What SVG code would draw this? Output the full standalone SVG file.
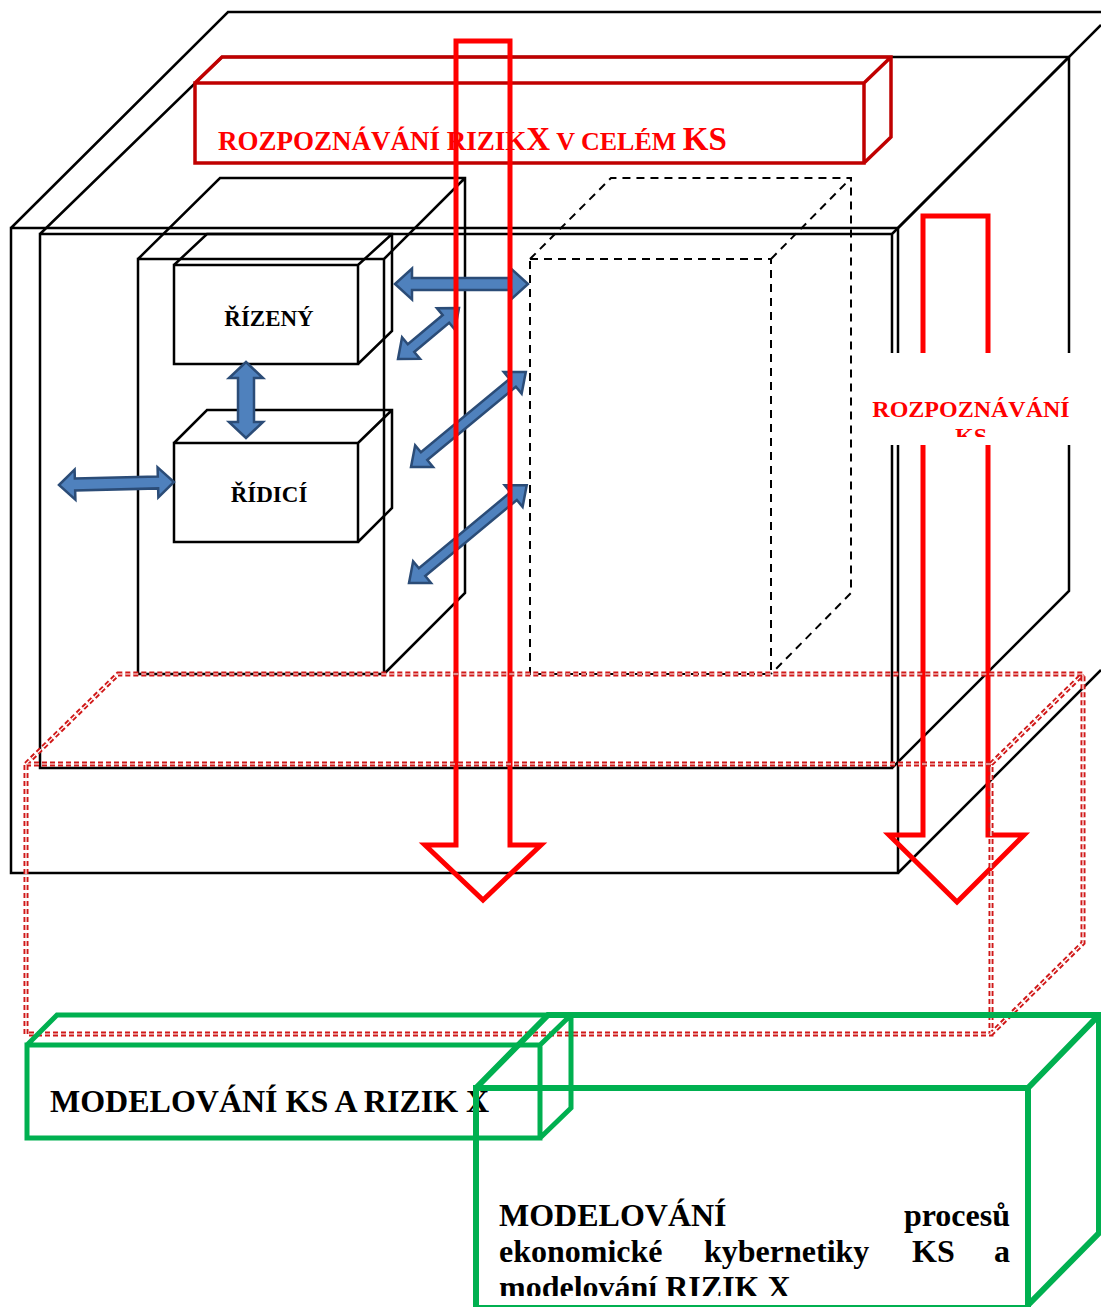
<svg xmlns="http://www.w3.org/2000/svg" width="1101" height="1307" viewBox="0 0 1101 1307">
<style>
.blk{fill:none;stroke:#000;stroke-width:2.5;stroke-linejoin:miter}
.dash{fill:none;stroke:#000;stroke-width:2;stroke-dasharray:8 6}
.rbox{fill:none;stroke:#C00000;stroke-width:3.5}
.rarrow{fill:none;stroke:#FF0000;stroke-width:5}
.dotr{fill:none;stroke:#D01818;stroke-width:5;stroke-dasharray:5 3}
.dotw{fill:none;stroke:#fff;stroke-width:1.2;stroke-dasharray:5 3}
.grn{fill:none;stroke:#00B050;stroke-width:5}
.grn2{fill:none;stroke:#00B050;stroke-width:6}
.barrow{fill:#4F81BD;stroke:#2B4C77;stroke-width:2.5;stroke-linejoin:miter}
.t{font-family:"Liberation Serif","Times New Roman",serif;font-weight:bold}
</style>
<defs>
<clipPath id="clipKS"><rect x="852" y="353" width="249" height="84"/></clipPath>
<clipPath id="clipBig"><rect x="480" y="1092" width="545" height="204"/></clipPath>
</defs>
<rect width="1101" height="1307" fill="#fff"/>

<g id="outer-box">
<path class="blk" d="M11,228 H898 V873 H11 Z M11,228 L228,12 H1101 M898,228 L1101,25 M898,873 L1101,670"/>
</g>
<g id="inner-box">
<path class="blk" d="M40,234 H892 V768 H40 Z M40,234 L222,57 H1069 V591 L892,768 M892,234 L1069,57"/>
</g>
<g id="system-box">
<path class="blk" d="M138,259 H384 V674 H138 Z M138,259 L220,178 H465 V593 L384,674 M384,259 L465,178"/>
</g>
<g id="rizeny">
<path class="blk" d="M174,265 H358 V364 H174 Z M174,265 L207,234 H392 V331 L358,364 M358,265 L392,234"/>
<text class="t" x="269" y="326" font-size="23" text-anchor="middle">ŘÍZENÝ</text>
</g>
<g id="ridici">
<path class="blk" d="M174,443 H358 V542 H174 Z M174,443 L207,410 H392 V508 L358,542 M358,443 L392,410"/>
<text class="t" x="269" y="502" font-size="23" text-anchor="middle">ŘÍDICÍ</text>
</g>
<g id="environment-box">
<path class="dash" d="M530,259 H771 V674 H530 Z M530,259 L611,178 H851 V593 L771,674 M771,259 L851,178"/>
</g>

<g id="connectors">
<path class="barrow" transform="translate(395,284)" d="M0,0 L17,-15.5 L17,-6 L116,-6 L116,-15.5 L133,0 L116,15.5 L116,6 L17,6 L17,15.5 Z"/>
<path class="barrow" transform="translate(398,359) rotate(-39.9)" d="M0,0 L17,-14 L17,-5 L62.5,-5 L62.5,-14 L79.5,0 L62.5,14 L62.5,5 L17,5 L17,14 Z"/>
<path class="barrow" transform="translate(246,362) rotate(90)" d="M0,0 L16,-17 L16,-8 L60,-8 L60,-17 L76,0 L60,17 L60,8 L16,8 L16,17 Z"/>
<path class="barrow" transform="translate(59,485) rotate(-1.5)" d="M0,0 L16,-15 L16,-6 L99,-6 L99,-15 L115,0 L99,15 L99,6 L16,6 L16,15 Z"/>
<path class="barrow" transform="translate(411,467) rotate(-39.6)" d="M0,0 L17,-14 L17,-5 L132,-5 L132,-14 L149,0 L132,14 L132,5 L17,5 L17,14 Z"/>
<path class="barrow" transform="translate(409,583) rotate(-39.7)" d="M0,0 L17,-14 L17,-5 L136,-5 L136,-14 L153,0 L136,14 L136,5 L17,5 L17,14 Z"/>
</g>

<g id="top-recognition">
<path class="rbox" d="M195,83 H864 V163 H195 Z M195,83 L222,57 H891 V137 L864,163 M864,83 L891,57"/>
<text class="t" x="218" y="150" fill="#FF0000" font-size="27">ROZPOZNÁVÁNÍ RIZIK<tspan font-size="33">X</tspan><tspan font-size="26"> V CELÉM </tspan><tspan font-size="33">KS</tspan></text>
</g>

<g id="red-arrows">
<path class="rarrow" d="M456,41 L510,41 L510,845 L541,845 L483,900 L425,845 L456,845 Z"/>
<path class="rarrow" d="M923,216 L988,216 L988,835 L1024,835 L957,902 L889,835 L923,835 Z"/>
</g>

<g id="dotted-floor">
<path class="dotr" d="M26,764 H991 V1034 H26 Z M26,764 L118,674 H1083 V943 L991,1034 M991,764 L1083,674"/>
<path class="dotw" d="M26,764 H991 V1034 H26 Z M26,764 L118,674 H1083 V943 L991,1034 M991,764 L1083,674"/>
</g>

<g id="modelovani-ks">
<text class="t" x="50" y="1112" font-size="32">MODELOVÁNÍ KS A RIZIK X</text>
<path class="grn" d="M27,1045 H540 V1138 H27 Z M27,1045 L57,1015 H571 V1108 L540,1138 M540,1045 L571,1015"/>
</g>

<g id="modelovani-procesu">
<path class="grn2" d="M476,1088 H1028 V1308 H476 Z M476,1088 L548,1015 H1099 V1233 L1028,1305 M1028,1088 L1099,1015"/>
<g clip-path="url(#clipBig)" class="t" font-size="32">
<text x="499" y="1226">MODELOVÁNÍ</text>
<text x="1010" y="1226" text-anchor="end">procesů</text>
<text x="499" y="1262">ekonomické</text>
<text x="704" y="1262">kybernetiky</text>
<text x="912" y="1262">KS</text>
<text x="1010" y="1262" text-anchor="end">a</text>
<text x="499" y="1298">modelování RIZIK X</text>
</g>
</g>

<g id="right-recognition">
<rect x="852" y="353" width="249" height="92" fill="#fff"/>
<g clip-path="url(#clipKS)">
<text class="t" x="971" y="417" fill="#FF0000" font-size="24" text-anchor="middle">ROZPOZNÁVÁNÍ</text>
<text class="t" x="971" y="444" fill="#FF0000" font-size="24" text-anchor="middle">KS</text>
</g>
</g>
</svg>
